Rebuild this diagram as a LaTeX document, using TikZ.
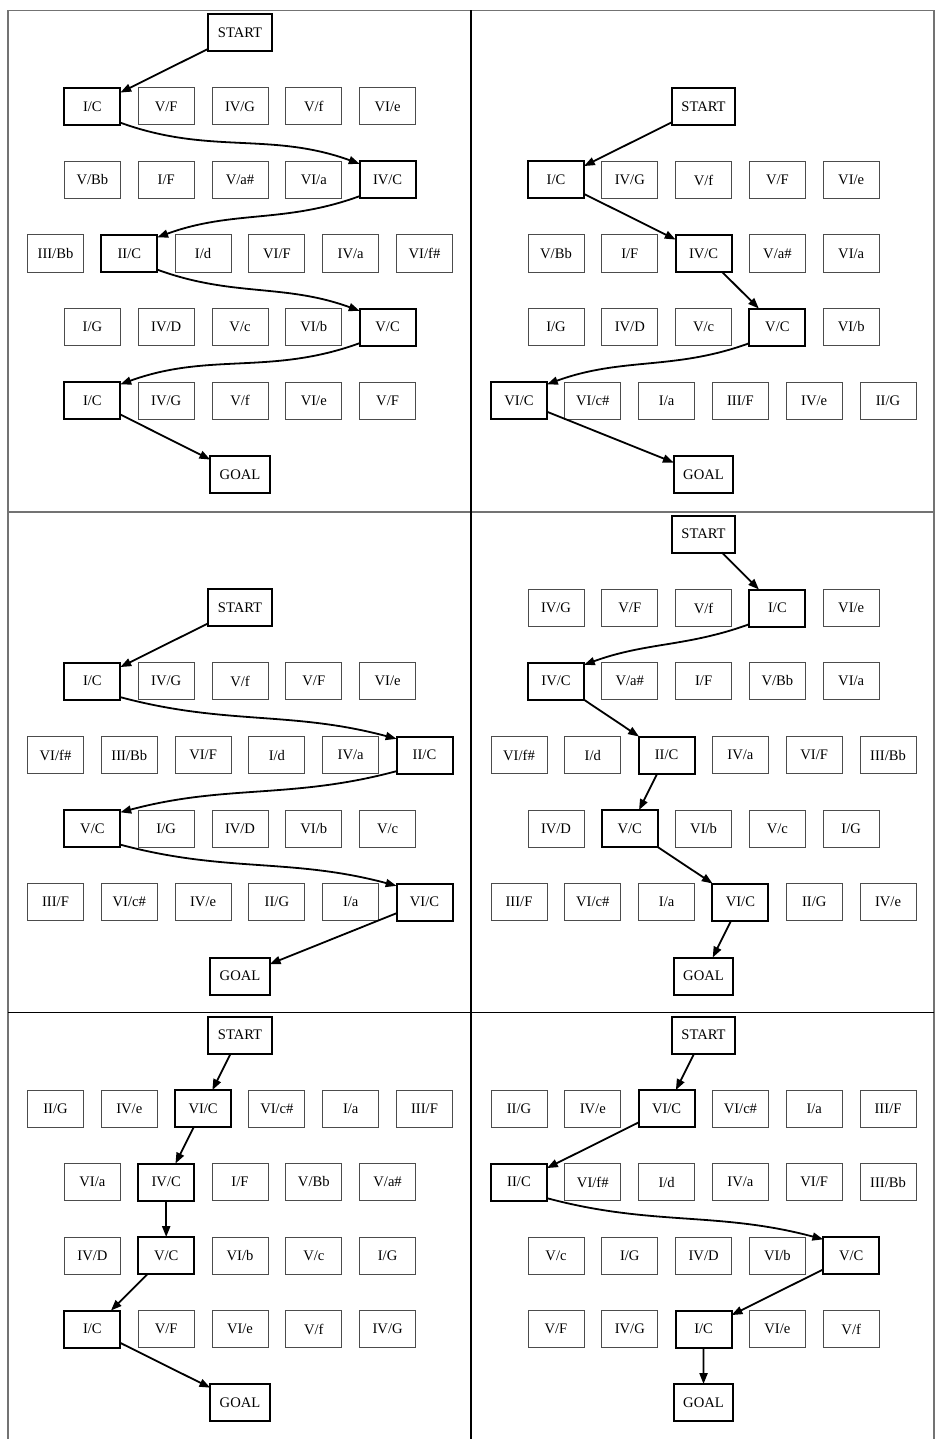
\documentclass[tikz,border=0pt]{standalone}
\usepackage{fontspec}
\setmainfont{Liberation Serif}
\usetikzlibrary{arrows.meta,positioning}

\begin{document}
\begin{tikzpicture}[x=0.5pt,y=-0.5pt,
  node distance=8.9pt, font=\fontsize{7.3}{8.8}\selectfont,
  box/.style={draw=black!70,line width=0.5pt,inner xsep=4.75pt,inner ysep=0pt,outer sep=0pt,minimum width=28pt,minimum height=18.5pt},
  hit/.style={draw=black,line width=1pt},
  link/.style={->,line width=0.9pt},
  frame/.style={draw=black!55,line width=0.65pt},
  sep/.style={draw=black,line width=0.65pt},
  >={Triangle[length=5.4pt,width=4pt]}]
\useasboundingbox (0,0) rectangle (936,1439);
\draw[frame] (8,1439) -- (8,10.5) -- (934,10.5) -- (934,1439);
\draw[frame] (8,512) -- (934,512);
\draw[sep] (471,10.5) -- (471,1439);
\draw[sep] (8,1012.5) -- (934,1012.5);

\node[box,hit] (s1) at (240,33) {START};
\node[box,hit] (a11) at (92.4,106.5) {I/C}; \node[box,right=of a11] (a12) {V/F}; \node[box,right=of a12] (a13) {IV/G}; \node[box,right=of a13] (a14) {V/f}; \node[box,right=of a14] (a15) {VI/e};
\node[box] (a21) at (92.4,180) {V/Bb}; \node[box,right=of a21] (a22) {I/F}; \node[box,right=of a22] (a23) {V/a\#}; \node[box,right=of a23] (a24) {VI/a}; \node[box,hit,right=of a24] (a25) {IV/C};
\node[box] (a31) at (55.5,253.5) {III/Bb}; \node[box,hit,right=of a31] (a32) {II/C}; \node[box,right=of a32] (a33) {I/d}; \node[box,right=of a33] (a34) {VI/F}; \node[box,right=of a34] (a35) {IV/a}; \node[box,right=of a35] (a36) {VI/f\#};
\node[box] (a41) at (92.4,327) {I/G}; \node[box,right=of a41] (a42) {IV/D}; \node[box,right=of a42] (a43) {V/c}; \node[box,right=of a43] (a44) {VI/b}; \node[box,hit,right=of a44] (a45) {V/C};
\node[box,hit] (a51) at (92.4,400.5) {I/C}; \node[box,right=of a51] (a52) {IV/G}; \node[box,right=of a52] (a53) {V/f}; \node[box,right=of a53] (a54) {VI/e}; \node[box,right=of a54] (a55) {V/F};
\node[box,hit] (g1) at (240,474.5) {GOAL};
\draw[link] (s1) -- (a11);
\draw[link] (a11.-30) to[out=-20,in=160] (a25.150);
\draw[link] (a25.210) to[out=200,in=20] (a32.30);
\draw[link] (a32.-30) to[out=-20,in=160] (a45.150);
\draw[link] (a45.210) to[out=200,in=20] (a51.30);
\draw[link] (a51) -- (g1);

\node[box,hit] (s2) at (703.5,106.5) {START};
\node[box,hit] (b11) at (556,180) {I/C}; \node[box,right=of b11] (b12) {IV/G}; \node[box,right=of b12] (b13) {V/f}; \node[box,right=of b13] (b14) {V/F}; \node[box,right=of b14] (b15) {VI/e};
\node[box] (b21) at (556,253.5) {V/Bb}; \node[box,right=of b21] (b22) {I/F}; \node[box,hit,right=of b22] (b23) {IV/C}; \node[box,right=of b23] (b24) {V/a\#}; \node[box,right=of b24] (b25) {VI/a};
\node[box] (b31) at (556,327) {I/G}; \node[box,right=of b31] (b32) {IV/D}; \node[box,right=of b32] (b33) {V/c}; \node[box,hit,right=of b33] (b34) {V/C}; \node[box,right=of b34] (b35) {VI/b};
\node[box,hit] (b41) at (519,400.5) {VI/C}; \node[box,right=of b41] (b42) {VI/c\#}; \node[box,right=of b42] (b43) {I/a}; \node[box,right=of b43] (b44) {III/F}; \node[box,right=of b44] (b45) {IV/e}; \node[box,right=of b45] (b46) {II/G};
\node[box,hit] (g2) at (703.5,474.5) {GOAL};
\draw[link] (s2) -- (b11); \draw[link] (b11) -- (b23); \draw[link] (b23) -- (b34);
\draw[link] (b34.210) to[out=200,in=20] (b41.30);
\draw[link] (b41) -- (g2);

\node[box,hit] (s3) at (240,607.5) {START};
\node[box,hit] (c11) at (92.4,681) {I/C}; \node[box,right=of c11] (c12) {IV/G}; \node[box,right=of c12] (c13) {V/f}; \node[box,right=of c13] (c14) {V/F}; \node[box,right=of c14] (c15) {VI/e};
\node[box] (c21) at (55.5,755) {VI/f\#}; \node[box,right=of c21] (c22) {III/Bb}; \node[box,right=of c22] (c23) {VI/F}; \node[box,right=of c23] (c24) {I/d}; \node[box,right=of c24] (c25) {IV/a}; \node[box,hit,right=of c25] (c26) {II/C};
\node[box,hit] (c31) at (92.4,828.5) {V/C}; \node[box,right=of c31] (c32) {I/G}; \node[box,right=of c32] (c33) {IV/D}; \node[box,right=of c33] (c34) {VI/b}; \node[box,right=of c34] (c35) {V/c};
\node[box] (c41) at (55.5,902) {III/F}; \node[box,right=of c41] (c42) {VI/c\#}; \node[box,right=of c42] (c43) {IV/e}; \node[box,right=of c43] (c44) {II/G}; \node[box,right=of c44] (c45) {I/a}; \node[box,hit,right=of c45] (c46) {VI/C};
\node[box,hit] (g3) at (240,976) {GOAL};
\draw[link] (s3) -- (c11);
\draw[link] (c11.-30) to[out=-15,in=165] (c26.150);
\draw[link] (c26.210) to[out=195,in=15] (c31.30);
\draw[link] (c31.-30) to[out=-15,in=165] (c46.150);
\draw[link] (c46) -- (g3);

\node[box,hit] (s4) at (703.5,534) {START};
\node[box] (d11) at (556,608) {IV/G}; \node[box,right=of d11] (d12) {V/F}; \node[box,right=of d12] (d13) {V/f}; \node[box,hit,right=of d13] (d14) {I/C}; \node[box,right=of d14] (d15) {VI/e};
\node[box,hit] (d21) at (556,681) {IV/C}; \node[box,right=of d21] (d22) {V/a\#}; \node[box,right=of d22] (d23) {I/F}; \node[box,right=of d23] (d24) {V/Bb}; \node[box,right=of d24] (d25) {VI/a};
\node[box] (d31) at (519,755) {VI/f\#}; \node[box,right=of d31] (d32) {I/d}; \node[box,hit,right=of d32] (d33) {II/C}; \node[box,right=of d33] (d34) {IV/a}; \node[box,right=of d34] (d35) {VI/F}; \node[box,right=of d35] (d36) {III/Bb};
\node[box] (d41) at (556,828.5) {IV/D}; \node[box,hit,right=of d41] (d42) {V/C}; \node[box,right=of d42] (d43) {VI/b}; \node[box,right=of d43] (d44) {V/c}; \node[box,right=of d44] (d45) {I/G};
\node[box] (d51) at (519,902) {III/F}; \node[box,right=of d51] (d52) {VI/c\#}; \node[box,right=of d52] (d53) {I/a}; \node[box,hit,right=of d53] (d54) {VI/C}; \node[box,right=of d54] (d55) {II/G}; \node[box,right=of d55] (d56) {IV/e};
\node[box,hit] (g4) at (703.5,976) {GOAL};
\draw[link] (s4) -- (d14);
\draw[link] (d14.210) to[out=200,in=20] (d21.30);
\draw[link] (d21) -- (d33); \draw[link] (d33) -- (d42); \draw[link] (d42) -- (d54); \draw[link] (d54) -- (g4);

\node[box,hit] (s5) at (240,1035) {START};
\node[box] (e11) at (55.5,1108.5) {II/G}; \node[box,right=of e11] (e12) {IV/e}; \node[box,hit,right=of e12] (e13) {VI/C}; \node[box,right=of e13] (e14) {VI/c\#}; \node[box,right=of e14] (e15) {I/a}; \node[box,right=of e15] (e16) {III/F};
\node[box] (e21) at (92.4,1182) {VI/a}; \node[box,hit,right=of e21] (e22) {IV/C}; \node[box,right=of e22] (e23) {I/F}; \node[box,right=of e23] (e24) {V/Bb}; \node[box,right=of e24] (e25) {V/a\#};
\node[box] (e31) at (92.4,1255.5) {IV/D}; \node[box,hit,right=of e31] (e32) {V/C}; \node[box,right=of e32] (e33) {VI/b}; \node[box,right=of e33] (e34) {V/c}; \node[box,right=of e34] (e35) {I/G};
\node[box,hit] (e41) at (92.4,1329) {I/C}; \node[box,right=of e41] (e42) {V/F}; \node[box,right=of e42] (e43) {VI/e}; \node[box,right=of e43] (e44) {V/f}; \node[box,right=of e44] (e45) {IV/G};
\node[box,hit] (g5) at (240,1402.5) {GOAL};
\draw[link] (s5) -- (e13); \draw[link] (e13) -- (e22); \draw[link] (e22) -- (e32); \draw[link] (e32) -- (e41); \draw[link] (e41) -- (g5);

\node[box,hit] (s6) at (703.5,1035) {START};
\node[box] (f11) at (519,1108.5) {II/G}; \node[box,right=of f11] (f12) {IV/e}; \node[box,hit,right=of f12] (f13) {VI/C}; \node[box,right=of f13] (f14) {VI/c\#}; \node[box,right=of f14] (f15) {I/a}; \node[box,right=of f15] (f16) {III/F};
\node[box,hit] (f21) at (519,1182) {II/C}; \node[box,right=of f21] (f22) {VI/f\#}; \node[box,right=of f22] (f23) {I/d}; \node[box,right=of f23] (f24) {IV/a}; \node[box,right=of f24] (f25) {VI/F}; \node[box,right=of f25] (f26) {III/Bb};
\node[box] (f31) at (556,1255.5) {V/c}; \node[box,right=of f31] (f32) {I/G}; \node[box,right=of f32] (f33) {IV/D}; \node[box,right=of f33] (f34) {VI/b}; \node[box,hit,right=of f34] (f35) {V/C};
\node[box] (f41) at (556,1329) {V/F}; \node[box,right=of f41] (f42) {IV/G}; \node[box,hit,right=of f42] (f43) {I/C}; \node[box,right=of f43] (f44) {VI/e}; \node[box,right=of f44] (f45) {V/f};
\node[box,hit] (g6) at (703.5,1402.5) {GOAL};
\draw[link] (s6) -- (f13); \draw[link] (f13) -- (f21);
\draw[link] (f21.-30) to[out=-15,in=165] (f35.150);
\draw[link] (f35) -- (f43); \draw[link] (f43) -- (g6);
\end{tikzpicture}
\end{document}
